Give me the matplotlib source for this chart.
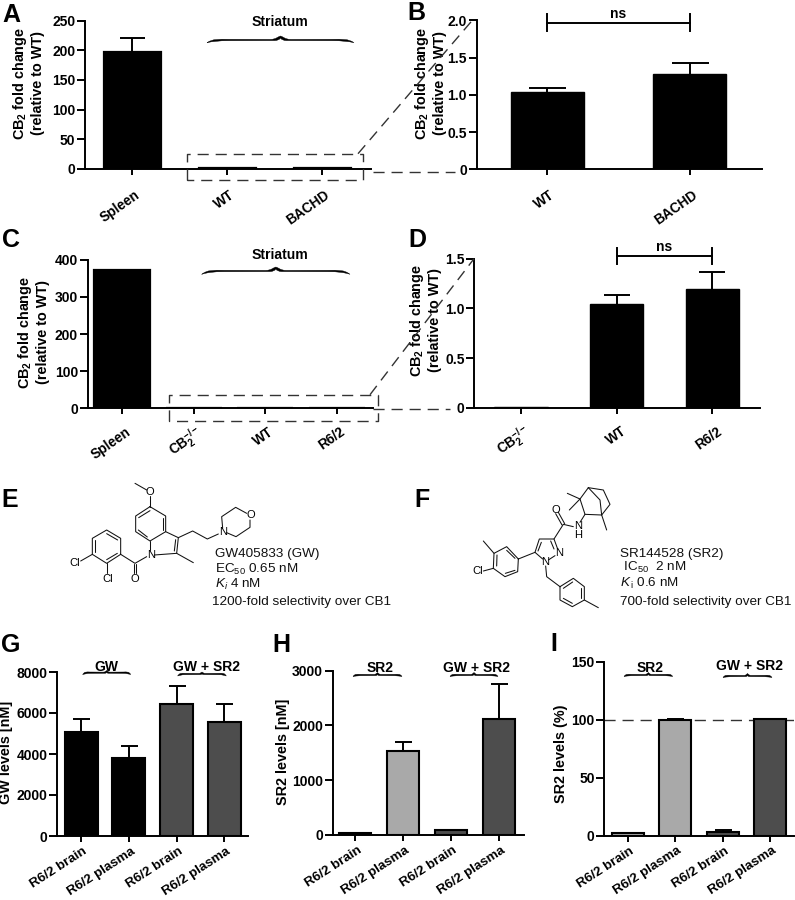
import matplotlib
matplotlib.use('Agg')
import matplotlib.pyplot as plt
from matplotlib.path import Path
from matplotlib.patches import PathPatch
from matplotlib.transforms import ScaledTranslation

plt.rcParams['font.family'] = ['Liberation Sans', 'DejaVu Sans']
plt.rcParams['mathtext.fontset'] = 'custom'
plt.rcParams['mathtext.rm'] = 'Liberation Sans'
plt.rcParams['mathtext.it'] = 'Liberation Sans:italic'
plt.rcParams['mathtext.bf'] = 'Liberation Sans:bold'
plt.rcParams['mathtext.default'] = 'regular'

CB2KO = r'CB$_2^{-/-}$'
CB2_LABEL = 'CB$_2$ fold change\n(relative to WT)'

# --- data ---
a_labels = ['Spleen', 'WT', 'BACHD']
a_values = [197, 1.0, 1.3]
a_upper = [220, 1.0, 1.3]
a_ticks = [0, 50, 100, 150, 200, 250]

b_labels = ['WT', 'BACHD']
b_values = [1.04, 1.28]
b_upper = [1.085, 1.43]
b_ticks = [0, 0.5, 1.0, 1.5, 2.0]
b_ticklabels = ['0', '0.5', '1.0', '1.5', '2.0']

c_labels = ['Spleen', CB2KO, 'WT', 'R6/2']
c_values = [373, 0.2, 1.5, 1.5]
c_upper = [373, 0.2, 1.5, 1.5]
c_ticks = [0, 100, 200, 300, 400]

d_labels = [CB2KO, 'WT', 'R6/2']
d_values = [0.005, 1.04, 1.19]
d_upper = [0.005, 1.13, 1.37]
d_ticks = [0, 0.5, 1.0, 1.5]
d_ticklabels = ['0', '0.5', '1.0', '1.5']

drug_labels = ['R6/2 brain', 'R6/2 plasma', 'R6/2 brain', 'R6/2 plasma']

g_values = [5050, 3820, 6420, 5540]
g_upper = [5700, 4400, 7300, 6450]
g_ticks = [0, 2000, 4000, 6000, 8000]
g_colors = ['#000000', '#000000', '#4d4d4d', '#4d4d4d']

h_values = [30, 1530, 85, 2110]
h_upper = [40, 1700, 100, 2750]
h_ticks = [0, 1000, 2000, 3000]
h_colors = ['#a9a9a9', '#a9a9a9', '#4d4d4d', '#4d4d4d']

i_values = [2, 100, 3.5, 100.3]
i_upper = [2.7, 100.3, 5, 100.8]
i_ticks = [0, 50, 100, 150]
i_colors = ['#a9a9a9', '#a9a9a9', '#4d4d4d', '#4d4d4d']

W, H = 795, 900
fig = plt.figure(figsize=(W / 100, H / 100), dpi=100)

ov = fig.add_axes([0, 0, 1, 1], zorder=10)
ov.set_xlim(0, W)
ov.set_ylim(H, 0)
ov.axis('off')
ov.patch.set_alpha(0)


def panel(left, right, top, bottom, t0, t1, labels, values, upper, yticks, ymax,
          barw, colors='#000000', edge=1.0, ylab='', lab_xy=(0, 0), yticklabels=None,
          capw=None, lab_off=(5, 16), fs=10, rot=35, xfs=9.8):
    ax = fig.add_axes([left / W, 1 - bottom / H, (right - left) / W, (bottom - top) / H])
    n = len(values)
    sp = (t1 - t0) / (n - 1)
    ax.set_xlim((left - t0) / sp, (right - t0) / sp)
    ax.set_ylim(0, ymax)
    xs = list(range(n))
    ax.bar(xs, values, width=barw / sp, color=colors, edgecolor='black', linewidth=edge, zorder=2)
    ex = [x for x, u, v in zip(xs, upper, values) if u > v]
    ev = [v for u, v in zip(upper, values) if u > v]
    eu = [u - v for u, v in zip(upper, values) if u > v]
    cap = (capw if capw else barw / 2) / 2 * 0.72
    if ex:
        _, caps, _ = ax.errorbar(ex, ev, yerr=[[0] * len(ex), eu], fmt='none', ecolor='black',
                                 elinewidth=1.4, capsize=cap, capthick=1.4, zorder=1)
        caps[0].set_visible(False)
    for s in ('top', 'right'):
        ax.spines[s].set_visible(False)
    for s in ('left', 'bottom'):
        ax.spines[s].set_linewidth(1.4)
    ax.patch.set_alpha(0)
    ax.set_yticks(yticks)
    ax.set_yticklabels(yticklabels if yticklabels else [str(t) for t in yticks],
                       fontsize=fs, fontweight='bold')
    ax.set_xticks(xs)
    ax.set_xticklabels(labels, fontsize=xfs, fontweight='bold', rotation=rot,
                       ha='right', va='center', rotation_mode='anchor')
    ax.tick_params(axis='y', length=5.5, width=1.4, pad=1.5)
    ax.tick_params(axis='x', length=4.5, width=1.4, pad=lab_off[1] * 0.72)
    for t in ax.get_xticklabels():
        t.set_transform(t.get_transform() + ScaledTranslation(lab_off[0] / 100, 0, fig.dpi_scale_trans))
    ax.set_ylabel(ylab, fontsize=10.4, fontweight='bold', va='center', ha='center', linespacing=1.1)
    ax.yaxis.set_label_coords(lab_xy[0], lab_xy[1], transform=ov.transData)
    return ax


panel(85, 371, 20.5, 169, 132, 322, a_labels, a_values, a_upper, a_ticks, 250, 57, edge=1.6,
      ylab=CB2_LABEL, lab_xy=(28, 83), capw=25, lab_off=(6, 18))
panel(476.7, 762, 20.3, 169.3, 547.3, 689.7, b_labels, b_values, b_upper, b_ticks, 2.0, 72.7,
      ylab=CB2_LABEL, lab_xy=(430, 83), yticklabels=b_ticklabels, capw=37, lab_off=(6, 18))
panel(87.7, 372.7, 259.7, 408.3, 122.3, 336.7, c_labels, c_values, c_upper, c_ticks, 400, 56, edge=1.6,
      ylab=CB2_LABEL, lab_xy=(33, 332), lab_off=(7, 16))
panel(474.3, 760, 258.7, 407.7, 521, 712.3, d_labels, d_values, d_upper, d_ticks, 1.5, 53.5,
      ylab=CB2_LABEL, lab_xy=(425, 320), yticklabels=d_ticklabels, capw=27, lab_off=(8, 16))
panel(57.3, 248.3, 672, 836, 81, 224.3, drug_labels, g_values, g_upper, g_ticks, 8000, 33,
      colors=g_colors, edge=1.5, ylab='GW levels [nM]', lab_xy=(6, 752), capw=17, lab_off=(5, 8),
      rot=33, xfs=9.6)
panel(332.7, 524.3, 670.7, 835, 355.3, 499, drug_labels, h_values, h_upper, h_ticks, 3000, 32,
      colors=h_colors, edge=1.5, ylab='SR2 levels [nM]', lab_xy=(283, 752), capw=17, lab_off=(5, 8),
      rot=33, xfs=9.6)
ax_i = panel(604.3, 794.3, 661.7, 835.7, 627.7, 770, drug_labels, i_values, i_upper, i_ticks, 150, 32,
      colors=i_colors, edge=1.5, ylab='SR2 levels (%)', lab_xy=(561, 754), capw=17, lab_off=(5, 8),
      rot=33, xfs=9.6)
ax_i.axhline(100, color='#333333', lw=1.0, dashes=(8, 5), zorder=0)

# --- panel letters ---
for s, x, y in [('A', 2, 22), ('B', 407, 20.5), ('C', 2, 247), ('D', 408, 247),
                ('E', 1, 507), ('F', 414, 507), ('G', 1, 652), ('H', 272, 652), ('I', 550, 651)]:
    ov.text(x, y, s, fontsize=18, fontweight='bold', ha='left', va='baseline')


def brace(x0, x1, ye, yl, tip):
    w = x1 - x0
    xm = (x0 + x1) / 2
    def side(sign, off):
        sx = lambda f: (x0 + f * w) if sign < 0 else (x1 - f * w)
        return [(sx(.04), yl + off * 2), (sx(.08), yl + off), (sx(.15), yl + off)]
    verts = [(x0, ye)]
    codes = [Path.MOVETO]
    verts += side(-1, -.7); codes += [Path.CURVE4] * 3
    verts += [(xm - .07 * w, yl - .6)]; codes += [Path.LINETO]
    verts += [(xm - .03 * w, yl - .6), (xm - .015 * w, tip + .5), (xm, tip)]; codes += [Path.CURVE4] * 3
    verts += [(xm + .015 * w, tip + .5), (xm + .03 * w, yl - .6), (xm + .07 * w, yl - .6)]; codes += [Path.CURVE4] * 3
    s = side(1, -.7)
    verts += [s[2]]; codes += [Path.LINETO]
    verts += [s[1], s[0], (x1, ye)]; codes += [Path.CURVE4] * 3
    s = side(1, .7)
    verts += [s[0], s[1], s[2]]; codes += [Path.CURVE4] * 3
    verts += [(xm + .04 * w, yl + .6), (xm + .01 * w, yl + .6), (xm, tip + 2)]; codes += [Path.LINETO, Path.CURVE3, Path.CURVE3]
    verts += [(xm - .01 * w, yl + .6), (xm - .04 * w, yl + .6)]; codes += [Path.CURVE3, Path.CURVE3]
    s = side(-1, .7)
    verts += [s[2]]; codes += [Path.LINETO]
    verts += [s[1], s[0], (x0, ye)]; codes += [Path.CURVE4] * 3
    ov.add_patch(PathPatch(Path(verts, codes), fc='black', ec='black', lw=0.3))


brace(207, 354, 42.7, 40, 36)
brace(201.7, 350, 274.3, 271, 267)
brace(82.7, 130.7, 674.5, 672.7, 670.5)
brace(177.7, 226.3, 676, 674, 672)
brace(353, 402, 676.5, 675, 672.5)
brace(450, 498, 676.5, 675, 672.5)
brace(624, 672.7, 676.5, 675, 672.5)
brace(723, 772, 677.5, 676, 673.5)

# --- group titles ---
for s, x, y, f in [('Striatum', 280, 21.5, 10.1), ('Striatum', 280, 255, 10.1),
                   ('GW', 106.5, 667, 10), ('GW + SR2', 206, 667, 10),
                   ('SR2', 380, 667.5, 10), ('GW + SR2', 476.5, 667.5, 10),
                   ('SR2', 650, 667.5, 10), ('GW + SR2', 749, 666.5, 10)]:
    ov.text(x, y, s, fontsize=f, fontweight='bold', ha='center', va='center')

# --- ns brackets ---
def bracket(x0, x1, y, y0, y1, ty):
    ov.plot([x0, x1], [y, y], color='black', lw=1.4)
    ov.plot([x0, x0], [y0, y1], color='black', lw=1.4)
    ov.plot([x1, x1], [y0, y1], color='black', lw=1.4)
    ov.text((x0 + x1) / 2, ty, 'ns', fontsize=10, fontweight='bold', ha='center', va='center')


bracket(547.3, 689.7, 22.7, 14.3, 31, 13.5)
bracket(616.7, 712.3, 255.7, 247.7, 264, 247)

# --- dashed guides ---
dash = dict(color='#333333', lw=1.0, dashes=(8, 5))
ov.plot([186.7, 186.7, 362.7, 362.7, 186.7], [180.3, 153.7, 153.7, 180.3, 180.3], **dash)
ov.plot([358, 472], [153.7, 20.7], **dash)
ov.plot([373, 455], [172, 172], **dash)
ov.plot([169, 169, 378, 378, 169], [421.3, 394.7, 394.7, 421.3, 421.3], **dash)
ov.plot([370, 474], [394.7, 258.7], **dash)
ov.plot([373, 450], [409.3, 409.3], **dash)

# --- structures (zoom coordinates: offset + value / 3) ---
def bonds(ox, oy, lines):
    for pts in lines:
        ov.plot([ox + p[0] / 3 for p in pts], [oy + p[1] / 3 for p in pts],
                color='#111111', lw=0.75, solid_capstyle='round')


def atom(ox, oy, x, y, s):
    ov.text(ox + x / 3, oy + y / 3, s, fontsize=8, ha='center', va='center')


bonds(0, 465, [
    [(405, 55), (440, 75)], [(450, 93), (450, 125)],
    [(450, 125), (497, 153), (497, 200), (450, 228), (407, 200), (407, 153), (450, 125)],
    [(416, 158), (450, 137)], [(488, 160), (488, 195)], [(415, 195), (442, 216)],
    [(497, 200), (535, 218), (530, 265), (463, 270)], [(450, 228), (450, 255)],
    [(527, 224), (523, 258)],
    [(530, 265), (580, 293)],
    [(535, 218), (578, 198), (622, 222), (655, 207)],
    [(680, 203), (708, 215), (750, 187), (750, 165)], [(668, 190), (665, 155), (707, 127), (740, 145)],
    [(440, 275), (405, 295), (362, 268)],
    [(401, 298), (401, 325)], [(409, 298), (409, 325)],
    [(362, 268), (362, 220), (320, 195), (277, 220), (277, 268), (320, 295), (362, 268)],
    [(353, 225), (320, 206)], [(286, 225), (286, 262)], [(320, 284), (352, 265)],
    [(277, 268), (242, 288)], [(320, 295), (320, 325)],
])
for x, y, s in [(450, 82, 'O'), (453, 269, 'N'), (668, 202, 'N'), (753, 151, 'O'),
                (405, 341, 'O'), (225, 293, 'Cl'), (323, 341, 'Cl')]:
    atom(0, 465, x, y, s)

bonds(400, 465, [
    [(565, 68), (610, 75), (630, 118), (605, 150), (555, 148), (540, 102), (565, 68)],
    [(565, 68), (600, 105), (605, 150)],
    [(540, 102), (502, 85)], [(540, 102), (508, 135)], [(605, 150), (620, 195)],
    [(555, 148), (540, 172)], [(520, 185), (490, 178)],
    [(494, 176), (475, 142)], [(486, 180), (467, 146)],
    [(490, 178), (462, 222), (418, 222), (405, 262), (428, 282)],
    [(462, 222), (473, 252)], [(452, 228), (462, 252)], [(424, 232), (414, 258)],
    [(465, 272), (445, 285)],
    [(405, 262), (355, 282)],
    [(355, 282), (353, 320), (315, 335), (280, 310), (282, 265), (320, 245), (355, 282)],
    [(345, 316), (316, 325)], [(291, 270), (290, 303)], [(320, 256), (345, 280)],
    [(282, 265), (250, 228)], [(280, 310), (250, 318)],
    [(437, 303), (440, 335), (480, 365)],
    [(480, 365), (520, 340), (553, 365), (553, 405), (517, 425), (480, 405), (480, 365)],
    [(490, 370), (518, 351)], [(544, 370), (544, 400)], [(490, 400), (517, 415)],
    [(553, 405), (595, 428)],
])
for x, y, s in [(467, 136, 'O'), (533, 184, 'N'), (533, 210, 'H'), (476, 265, 'N'),
                (435, 292, 'N'), (232, 318, 'Cl')]:
    atom(400, 465, x, y, s)

for s, x, y in [('GW405833 (GW)', 215, 553.5), ('EC$_{50}$ 0.65 nM', 215, 569),
                (r'$\mathit{K_i}$ 4 nM', 215, 584), ('1200-fold selectivity over CB1', 212.5, 601.5),
                ('SR144528 (SR2)', 619.5, 553.5), (' IC$_{50}$  2 nM', 620, 567.5),
                (r'$\mathit{K}$$_{\,i}$ 0.6 nM', 620, 583), ('700-fold selectivity over CB1', 619.5, 601.5)]:
    ov.text(x, y, s, fontsize=9.7, ha='left', va='center', color='#111111')

fig.savefig('out.png', dpi=100)
